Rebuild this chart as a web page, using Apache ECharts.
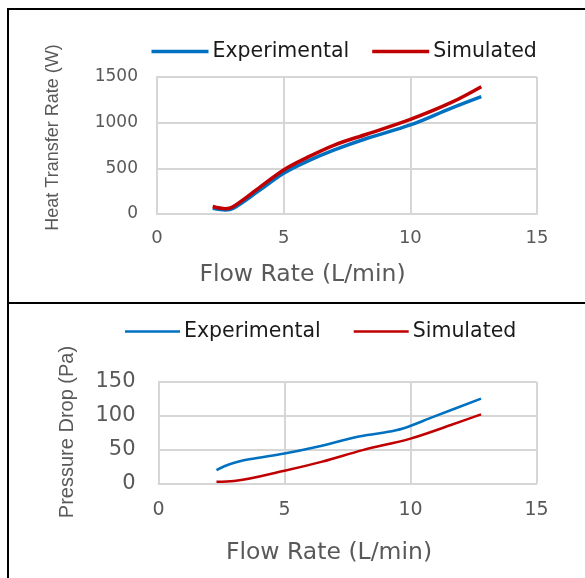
<!DOCTYPE html>
<html>
<head>
<meta charset="utf-8">
<script src="https://cdn.jsdelivr.net/npm/echarts@6/dist/echarts.min.js"></script>
<style>
html,body{margin:0;padding:0;background:#fff;}
#chart{width:585px;height:578px;}
</style>
</head>
<body>
<div id="chart"></div>
<script>
// ---- Data ----
const seriesNames = ['Experimental', 'Simulated'];
const xTicks = [0, 5, 10, 15];
const heatTicks = [0, 500, 1000, 1500];
const pressureTicks = [0, 50, 100, 150];

const heatExpFlow = [2.2, 2.7, 3.0, 4.0, 5.0, 5.9, 7.0, 8.3, 10.0, 11.6, 12.8];
const heatExp     = [62, 45, 60, 250, 446, 573, 701, 829, 975, 1157, 1285];
const heatSimFlow = [2.2, 2.7, 3.0, 4.0, 5.0, 5.9, 7.0, 8.3, 10.0, 11.6, 12.8];
const heatSim     = [82, 58, 80, 281, 482, 615, 755, 876, 1036, 1219, 1394];

const presExpFlow = [2.3, 2.85, 3.6, 5.0, 6.3, 7.9, 8.9, 9.7, 10.9, 12.8];
const presExp     = [19.6, 28.5, 35.4, 44, 54, 68.7, 74.6, 81, 98, 125];
const presSimFlow = [2.3, 3.0, 5.0, 6.5, 8.1, 10.0, 11.6, 12.8];
const presSim     = [2.4, 3.4, 18.6, 32, 49, 66, 86, 101.7];

const xTitle = 'Flow Rate (L/min)';
const heatTitle = 'Heat Transfer Rate (W)';
const presTitle = 'Pressure Drop (Pa)';

function pairs(xs, ys){ return xs.map((x,i)=>[x, ys[i]]); }

const BLUE = '#0070C0', RED = '#C00000';
const GRIDC = '#d6d6d6';
const TICKC = '#595959';
const FONT = 'DejaVu Sans';

function xAxisCfg(gi, fs, margin){
  return {
    type:'value', gridIndex:gi, min:xTicks[0], max:xTicks[xTicks.length-1], interval:xTicks[1]-xTicks[0],
    axisLine:{show:true, lineStyle:{color:GRIDC, width:2}},
    axisTick:{show:false},
    splitLine:{show:true, lineStyle:{color:GRIDC, width:2}},
    axisLabel:{color:TICKC, fontFamily:FONT, fontSize:fs, margin:margin, formatter:v=>String(v)}
  };
}
function yAxisCfg(gi, ticks, fs, margin){
  return {
    type:'value', gridIndex:gi, min:ticks[0], max:ticks[ticks.length-1], interval:ticks[1]-ticks[0],
    axisLine:{show:true, lineStyle:{color:GRIDC, width:2}},
    axisTick:{show:false},
    splitLine:{show:true, lineStyle:{color:GRIDC, width:2}},
    axisLabel:{color:TICKC, fontFamily:FONT, fontSize:fs, margin:margin, formatter:v=>String(v)}
  };
}
function lineSeries(name, data, color, w, xi, yi){
  return {
    name:name, type:'line', xAxisIndex:xi, yAxisIndex:yi, data:data,
    smooth:0.35, symbol:'none', showSymbol:false,
    lineStyle:{color:color, width:w}, itemStyle:{color:color},
    emphasis:{disabled:true}
  };
}

const chart = echarts.init(document.getElementById('chart'), null, {renderer:'canvas'});
chart.setOption({
  backgroundColor:'#ffffff',
  animation:false,
  legend:[
    {
      data:seriesNames, left:151.5, top:41, padding:0, itemWidth:57, itemHeight:3.5, itemGap:23,
      icon:'rect', selectedMode:false,
      textStyle:{fontFamily:FONT, fontSize:20.5, color:'#1a1a1a', padding:[0,0,0,-1]}
    },
    {
      data:seriesNames, left:125, top:321, padding:0, itemWidth:55, itemHeight:2.5, itemGap:33,
      icon:'rect', selectedMode:false,
      textStyle:{fontFamily:FONT, fontSize:20.5, color:'#1a1a1a', padding:[0,0,0,-1]}
    }
  ],
  grid:[
    {left:157, right:48, top:77, height:137},
    {left:158.5, right:48.5, top:381.7, height:101.6}
  ],
  xAxis:[ xAxisCfg(0, 18, 15), xAxisCfg(1, 19, 17) ],
  yAxis:[ yAxisCfg(0, heatTicks, 17, 19), yAxisCfg(1, pressureTicks, 21, 23) ],
  series:[
    lineSeries(seriesNames[0], pairs(heatExpFlow, heatExp), BLUE, 3.5, 0, 0),
    lineSeries(seriesNames[1], pairs(heatSimFlow, heatSim), RED, 3.5, 0, 0),
    lineSeries(seriesNames[0], pairs(presExpFlow, presExp), BLUE, 2.5, 1, 1),
    lineSeries(seriesNames[1], pairs(presSimFlow, presSim), RED, 2.5, 1, 1)
  ],
  graphic:[
    {type:'line', shape:{x1:7, y1:9, x2:585, y2:9}, style:{stroke:'#000', lineWidth:2}, silent:true},
    {type:'line', shape:{x1:8, y1:8, x2:8, y2:578}, style:{stroke:'#000', lineWidth:2}, silent:true},
    {type:'line', shape:{x1:7, y1:303, x2:585, y2:303}, style:{stroke:'#000', lineWidth:2}, silent:true},
    {type:'text', x:302.5, y:275, style:{text:xTitle, font:'23.5px "DejaVu Sans"', fill:TICKC, align:'center', verticalAlign:'middle'}, silent:true},
    {type:'text', x:329, y:553, style:{text:xTitle, font:'23.5px "DejaVu Sans"', fill:TICKC, align:'center', verticalAlign:'middle'}, silent:true},
    {type:'text', x:53.5, y:137.5, rotation:Math.PI/2, style:{text:heatTitle, font:'18px "Liberation Sans"', fill:TICKC, align:'center', verticalAlign:'middle'}, silent:true},
    {type:'text', x:67.5, y:432, rotation:Math.PI/2, style:{text:presTitle, font:'20px "Liberation Sans"', fill:TICKC, align:'center', verticalAlign:'middle'}, silent:true}
  ]
});
</script>
</body>
</html>
